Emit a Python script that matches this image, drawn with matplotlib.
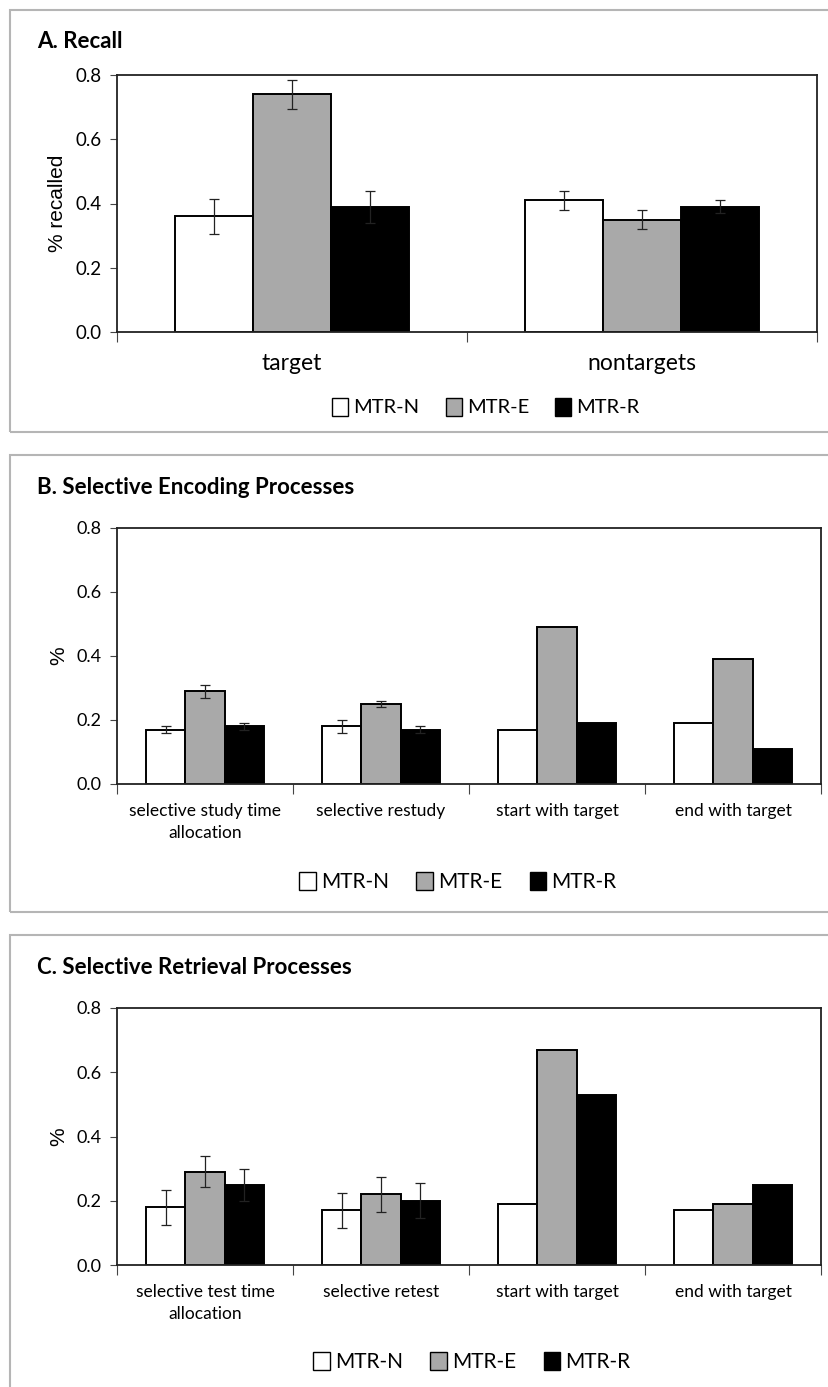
import numpy as np
import matplotlib
matplotlib.use('Agg')
import matplotlib.pyplot as plt
from matplotlib.patches import Patch, Rectangle

# data
groups = ['MTR-N', 'MTR-E', 'MTR-R']
colors = ['white', '#a9a9a9', 'black']

cats_a = ['target', 'nontargets']
recall_mean = [[0.36, 0.41], [0.74, 0.35], [0.39, 0.39]]
recall_err = [[0.055, 0.03], [0.045, 0.03], [0.05, 0.02]]

cats_b = ['selective study time\nallocation', 'selective restudy',
          'start with target', 'end with target']
enc_mean = [[0.17, 0.18, 0.17, 0.19], [0.29, 0.25, 0.49, 0.39], [0.18, 0.17, 0.19, 0.11]]
enc_err = [[0.01, 0.02, 0, 0], [0.02, 0.01, 0, 0], [0.01, 0.01, 0, 0]]

cats_c = ['selective test time\nallocation', 'selective retest',
          'start with target', 'end with target']
ret_mean = [[0.18, 0.17, 0.19, 0.17], [0.29, 0.22, 0.67, 0.19], [0.25, 0.20, 0.53, 0.25]]
ret_err = [[0.055, 0.055, 0, 0], [0.048, 0.055, 0, 0], [0.05, 0.055, 0, 0]]

yticks = [0.0, 0.2, 0.4, 0.6, 0.8]

plt.rcParams['font.family'] = ['Lato', 'DejaVu Sans']

fig = plt.figure(figsize=(8.29, 13.87), dpi=100)
H = 1387.0
W = 829.0


def fy(px):
    return 1 - px / H


def panel(box_top, box_bot, ax_top, ax_bot, ax_right, title, title_y,
          cats, means, errs, ylabel, tick_pad, xfs, yfs, leg_x, leg_y, leg_fs):
    # grey frame round the panel
    fig.patches.append(Rectangle((10 / W, fy(box_bot)), 1.2, fy(box_top) - fy(box_bot),
                                 transform=fig.transFigure, fill=False,
                                 edgecolor='#b5b5b5', lw=1.5))
    fig.text(37 / W, fy(title_y), title, fontsize=16, fontweight='bold',
             va='center', ha='left')

    ax = fig.add_axes([117 / W, fy(ax_bot), (ax_right - 117) / W, fy(ax_top) - fy(ax_bot)])
    n = len(cats)
    x = np.arange(n)
    w = 1 / 4.5
    for i, g in enumerate(groups):
        e = np.array(errs[i])
        ax.bar(x + (i - 1) * w, means[i], w, color=colors[i], edgecolor='black',
               lw=1.4, zorder=2)
        has = e > 0
        if has.any():
            ax.errorbar((x + (i - 1) * w)[has], np.array(means[i])[has], yerr=e[has],
                        fmt='none', ecolor='#222222', elinewidth=0.9, capsize=3.5,
                        capthick=0.9, zorder=3)
    ax.set_xlim(-0.5, n - 0.5)
    ax.set_ylim(0, 0.8)
    ax.set_yticks(yticks)
    ax.set_yticklabels(['%.1f' % t for t in yticks], fontsize=yfs)
    ax.set_xticks(np.arange(n + 1) - 0.5)
    ax.set_xticklabels([])
    ax.set_xticks(x, minor=True)
    ax.set_xticklabels(cats, minor=True, fontsize=xfs, linespacing=1.45)
    ax.tick_params(axis='x', which='major', length=7, width=0.8, color='#444444')
    ax.tick_params(axis='x', which='minor', length=0, pad=tick_pad)
    ax.tick_params(axis='y', length=5, width=0.8, color='#444444', pad=6)
    for s in ax.spines.values():
        s.set_linewidth(1.3)
        s.set_color('#222222')
    ax.set_ylabel(ylabel, fontsize=15, family='Liberation Sans', labelpad=6)

    handles = [Patch(facecolor=c, edgecolor='black', lw=1) for c in colors]
    fig.legend(handles, groups, loc='center', bbox_to_anchor=(leg_x / W, fy(leg_y)),
               ncol=3, frameon=False, fontsize=leg_fs, handlelength=0.8,
               handleheight=1.0, handletextpad=0.25, columnspacing=1.3)
    return ax


panel(10, 432, 75, 332, 817, 'A. Recall', 42, cats_a, recall_mean, recall_err,
      '% recalled', 15, 16.5, 13.5, 486, 407, 14.5)
panel(455, 912, 528, 784, 821, 'B. Selective Encoding Processes', 487, cats_b,
      enc_mean, enc_err, '%', 14, 12.5, 13, 458, 882, 15)
panel(935, 1400, 1008, 1265, 821, 'C. Selective Retrieval Processes', 967, cats_c,
      ret_mean, ret_err, '%', 14, 12.5, 13, 472, 1362, 15)

fig.savefig('out.png', dpi=100)
